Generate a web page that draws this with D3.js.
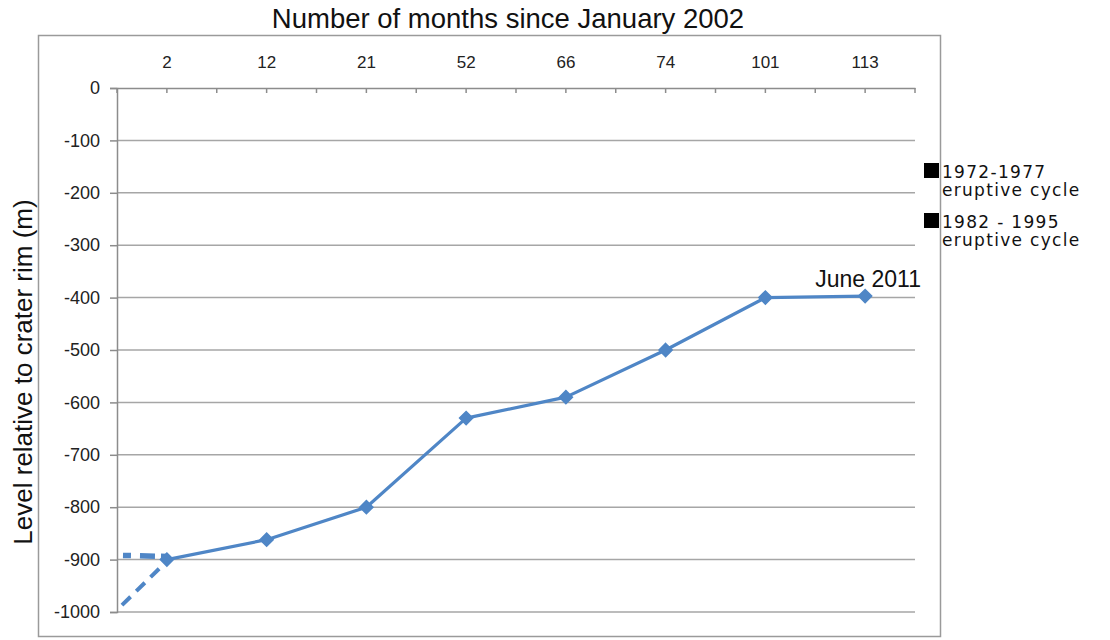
<!DOCTYPE html>
<html>
<head>
<meta charset="utf-8">
<script src="https://cdn.jsdelivr.net/npm/d3@7"></script>
<style>
  html, body { margin: 0; padding: 0; background: #fff; }
  svg { display: block; font-family: "Liberation Sans", Arial, sans-serif; }
</style>
</head>
<body>
<svg id="chart" width="1110" height="640"></svg>
<script>
// Months elapsed since January 2002 and the measured lava level (m, relative to crater rim)
const months = ["2", "12", "21", "52", "66", "74", "101", "113"];
const levels = [-900, -862, -800, -630, -590, -500, -400, -397];
const yTicks = [0, -100, -200, -300, -400, -500, -600, -700, -800, -900, -1000];

// Earlier eruptive cycles, as short dashed lead-ins (position in category units)
const cycle7277Pos = [-0.44, 0];
const cycle7277Level = [-892, -894];
const cycle8295Pos = [-0.45, 0];
const cycle8295Level = [-987, -903];

const legendLabels = [["1972-1977", "eruptive cycle"], ["1982 - 1995", "eruptive cycle"]];
const pointNote = "June 2011";

const svg = d3.select("#chart");
const blue = "#4f86c6";
const font = "Liberation Sans, Arial, sans-serif";

const plot = { left: 117, right: 915, top: 88, bottom: 612 };

// outer chart frame
svg.append("rect")
  .attr("x", 38.5).attr("y", 35.5).attr("width", 902).attr("height", 601)
  .attr("fill", "#fff").attr("stroke", "#9a9a9a").attr("stroke-width", 1.5);

const x = d3.scaleBand().domain(months).range([plot.left, plot.right]);
const xPos = d3.scaleLinear().domain([-0.5, months.length - 0.5]).range([plot.left, plot.right]);
const y = d3.scaleLinear().domain([-1000, 0]).range([plot.bottom, plot.top]);

// horizontal gridlines
svg.append("g").selectAll("line").data(yTicks.filter(d => d !== 0)).join("line")
  .attr("x1", plot.left).attr("x2", plot.right)
  .attr("y1", d => y(d)).attr("y2", d => y(d))
  .attr("stroke", "#a6a6a6").attr("stroke-width", 1.5);

// value axis on the left
const yAxis = svg.append("g")
  .attr("transform", `translate(${plot.left},0)`)
  .call(d3.axisLeft(y).tickValues(yTicks).tickSize(7).tickPadding(10).tickFormat(d => String(d)));
yAxis.select(".domain").attr("stroke", "#8c8c8c").attr("stroke-width", 1.5);
yAxis.selectAll(".tick line").attr("stroke", "#8c8c8c").attr("stroke-width", 1.5);
yAxis.selectAll(".tick text")
  .attr("font-size", 18).attr("fill", "#222").attr("font-family", font);

// category axis along the zero line at the top
const xAxis = svg.append("g")
  .attr("transform", `translate(0,${y(0)})`)
  .call(d3.axisTop(x).tickSize(0).tickPadding(20));
xAxis.select(".domain").attr("stroke", "#8c8c8c").attr("stroke-width", 1.5);
xAxis.selectAll(".tick text")
  .attr("font-size", 17).attr("fill", "#222").attr("font-family", font);

// small tick marks at category boundaries and centres
const tickPos = d3.range(-0.5, months.length, 0.5);
svg.append("g").selectAll("line").data(tickPos).join("line")
  .attr("x1", d => xPos(d)).attr("x2", d => xPos(d))
  .attr("y1", y(0)).attr("y2", y(0) + 5)
  .attr("stroke", "#8c8c8c").attr("stroke-width", 1.5);

// dashed lead-ins for the earlier cycles
const dashLine = d3.line().x(d => xPos(d[0])).y(d => y(d[1]));
svg.append("path")
  .attr("d", dashLine(d3.zip(cycle7277Pos, cycle7277Level)))
  .attr("fill", "none").attr("stroke", blue).attr("stroke-width", 5.5)
  .attr("stroke-dasharray", "8,9,15,6");
svg.append("path")
  .attr("d", dashLine(d3.zip(cycle8295Pos, cycle8295Level)))
  .attr("fill", "none").attr("stroke", blue).attr("stroke-width", 4)
  .attr("stroke-dasharray", "12,8");

// main series
const data = months.map((m, i) => ({ m, v: levels[i] }));
const line = d3.line().x(d => x(d.m) + x.bandwidth() / 2).y(d => y(d.v));
svg.append("path")
  .attr("d", line(data))
  .attr("fill", "none").attr("stroke", blue).attr("stroke-width", 3.2)
  .attr("stroke-linejoin", "round");

svg.append("g").selectAll("path").data(data).join("path")
  .attr("transform", d => `translate(${x(d.m) + x.bandwidth() / 2},${y(d.v)})`)
  .attr("d", d3.symbol(d3.symbolDiamond2, 110))
  .attr("fill", blue).attr("stroke", blue).attr("stroke-width", 1.5);

// annotation on the latest measurement
const last = data[data.length - 1];
svg.append("text")
  .attr("x", x(last.m) + x.bandwidth() / 2 + 3)
  .attr("y", y(last.v) - 9)
  .attr("text-anchor", "middle")
  .attr("font-size", 23).attr("fill", "#111")
  .text(pointNote);

// chart title
svg.append("text")
  .attr("x", 508).attr("y", 28)
  .attr("text-anchor", "middle")
  .attr("font-size", 27.5).attr("fill", "#111")
  .text("Number of months since January 2002");

// value axis title
svg.append("text")
  .attr("transform", "translate(32,372) rotate(-90)")
  .attr("text-anchor", "middle")
  .attr("font-size", 26).attr("fill", "#111")
  .text("Level relative to crater rim (m)");

// legend
const legend = svg.append("g").selectAll("g").data(legendLabels).join("g")
  .attr("transform", (d, i) => `translate(924,${163 + i * 50})`);
legend.append("rect").attr("width", 15).attr("height", 15).attr("fill", "#000");
legend.append("text")
  .attr("x", 18).attr("y", 15)
  .attr("font-size", 17).attr("fill", "#111")
  .attr("font-family", "DejaVu Sans, Verdana, sans-serif")
  .attr("letter-spacing", 1.3)
  .selectAll("tspan").data(d => d).join("tspan")
  .attr("x", 18).attr("dy", (d, i) => i === 0 ? 0 : 18)
  .text(d => d);
</script>
</body>
</html>
